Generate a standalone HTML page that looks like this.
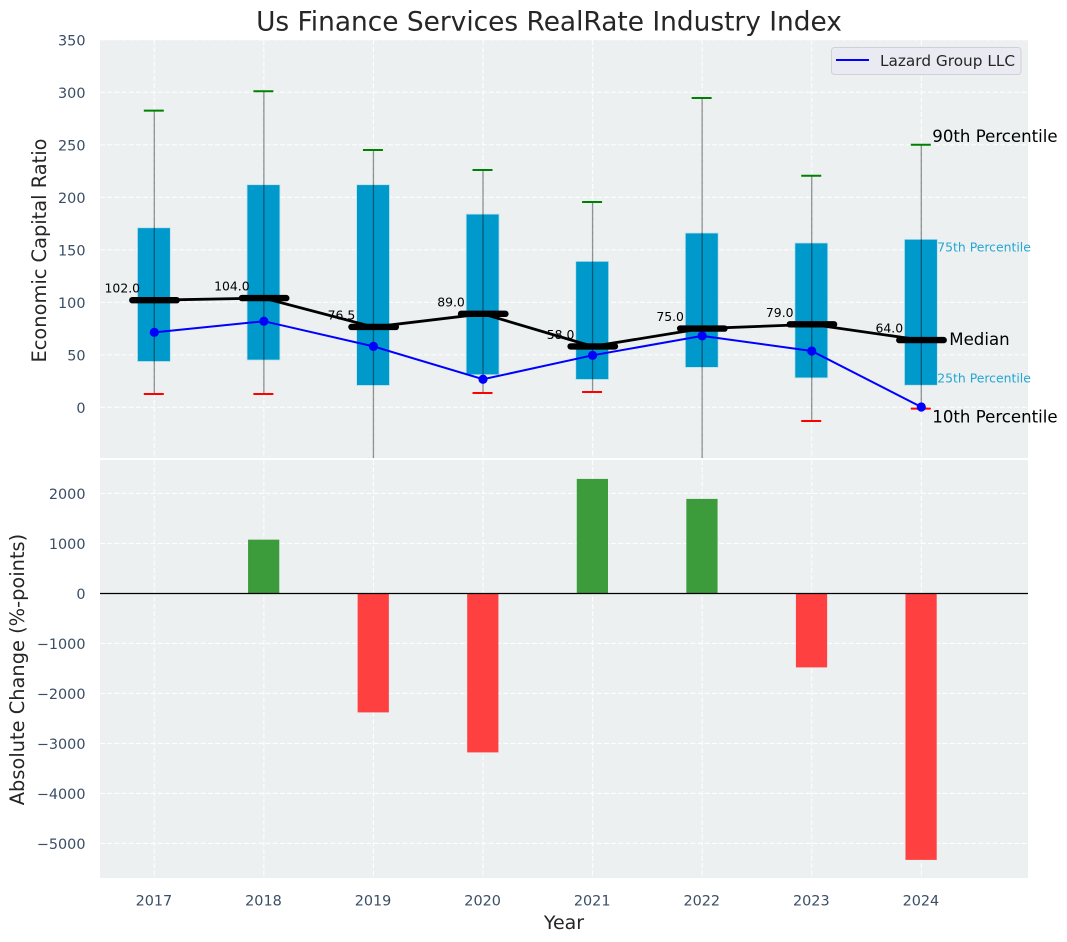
<!DOCTYPE html>
<html lang="en">
<head>
<meta charset="utf-8">
<title>Us Finance Services RealRate Industry Index</title>
<style>
html,body{margin:0;padding:0;background:#fff;width:1067px;height:942px;overflow:hidden}
svg{display:block;font-family:"DejaVu Sans","Liberation Sans",sans-serif}
</style>
</head>
<body>
<svg id="chart" xmlns="http://www.w3.org/2000/svg" width="1067" height="942" viewBox="0 0 1067 942">
  <defs>
    <clipPath id="clip-top"><rect x="100" y="40" width="928" height="418"/></clipPath>
    <clipPath id="clip-bottom"><rect x="100" y="460" width="928" height="418"/></clipPath>
  </defs>
  <rect x="100" y="40" width="928" height="418" fill="#ecf0f1"/>
  <rect x="100" y="460" width="928" height="418" fill="#ecf0f1"/>
  <g id="top-grid" clip-path="url(#clip-top)"></g>
  <g id="bottom-grid" clip-path="url(#clip-bottom)"></g>
  <g id="bars" clip-path="url(#clip-bottom)"></g>
  <line x1="100" x2="1028" y1="593.5" y2="593.5" stroke="#000" stroke-width="1.2"/>
  <g id="boxes" clip-path="url(#clip-top)"></g>
  <g id="whiskers" clip-path="url(#clip-top)"></g>
  <g id="lazard" clip-path="url(#clip-top)"></g>
  <g id="medians"></g>
  <g id="annotations"></g>
  <g id="tick-labels"></g>

  <text x="549" y="30.5" text-anchor="middle" font-size="26.4" fill="#262626">Us Finance Services RealRate Industry Index</text>
  <text x="564" y="929" text-anchor="middle" font-size="19" fill="#262626">Year</text>
  <text transform="translate(46 250.5) rotate(-90)" text-anchor="middle" font-size="19.4" fill="#262626">Economic Capital Ratio</text>
  <text transform="translate(24 669.5) rotate(-90)" text-anchor="middle" font-size="19.4" fill="#262626">Absolute Change (%-points)</text>

  <g>
    <rect x="831.5" y="47.5" width="189.5" height="27" rx="3" fill="#eaeaf2" stroke="#d0d0d6" stroke-width="1"/>
    <line x1="836" x2="869" y1="60" y2="60" stroke="#0000ff" stroke-width="2"/>
    <text x="880" y="66" font-size="15.3" fill="#262626">Lazard Group LLC</text>
  </g>
</svg>
<script>
const years = [2017, 2018, 2019, 2020, 2021, 2022, 2023, 2024];
const p10 = [12.7, 12.7, -60, 13.6, 14.6, -60, -13, -1.3];
const p25 = [43.6, 45, 20.8, 31, 26.5, 38, 28, 21];
const medianValues = [102, 104, 76.5, 89, 58, 75, 79, 64];
const p75 = [171, 212, 212, 184, 139, 166, 156.5, 160];
const p90 = [282.5, 301, 245, 226, 195.5, 294.6, 220.5, 250];
const lazardValues = [71.4, 82, 58, 26.7, 49.5, 68, 53.6, 0.3];
const changeValues = [0, 1075, -2380, -3180, 2290, 1890, -1480, -5330];
const topTicks = [0, 50, 100, 150, 200, 250, 300, 350];
const bottomTicks = [-5000, -4000, -3000, -2000, -1000, 0, 1000, 2000];

const NS = 'http://www.w3.org/2000/svg';
const xScale = function (year) { return 154.3 + (year - 2017) * 109.57; };
const yTop = function (v) { return 407.3 - v * 1.05; };
const yBottom = function (v) { return 593.4 - v * 0.05; };
const xUnit = 109.57;

function mk(tag, attrs, parent, text) {
  const el = document.createElementNS(NS, tag);
  Object.keys(attrs).forEach(function (k) { el.setAttribute(k, attrs[k]); });
  if (text !== undefined) el.textContent = text;
  parent.appendChild(el);
  return el;
}
function fmt(v) { return String(v).replace('-', '\u2212'); }

const topGrid = document.getElementById('top-grid');
const bottomGrid = document.getElementById('bottom-grid');
const barsG = document.getElementById('bars');
const boxesG = document.getElementById('boxes');
const whiskersG = document.getElementById('whiskers');
const lazardG = document.getElementById('lazard');
const mediansG = document.getElementById('medians');
const annotG = document.getElementById('annotations');
const tickG = document.getElementById('tick-labels');
const gridStyle = { stroke: '#ffffff', 'stroke-width': 1.1, 'stroke-dasharray': '5 2.2', 'stroke-opacity': 0.9 };
const tickColor = '#3a4e65';

topTicks.forEach(function (t) {
  const y = yTop(t);
  const g = mk('line', Object.assign({ x1: 100, x2: 1028, y1: y, y2: y }, gridStyle), topGrid);
  
  
  const lab = mk('text', { x: 85.5, y: y + 5.5, 'text-anchor': 'end', 'font-size': 14.4, fill: tickColor }, tickG, fmt(t));
  
  
});
bottomTicks.forEach(function (t) {
  const y = yBottom(t);
  const g = mk('line', Object.assign({ x1: 100, x2: 1028, y1: y, y2: y }, gridStyle), bottomGrid);
  
  
  const lab = mk('text', { x: 85.5, y: y + 5.5, 'text-anchor': 'end', 'font-size': 14.4, fill: tickColor }, tickG, fmt(t));
  
  
});

years.forEach(function (yr, i) {
  const x = xScale(yr);

  const g1 = mk('line', Object.assign({ x1: x, x2: x, y1: 40, y2: 458 }, gridStyle), topGrid);
  
  
  const g2 = mk('line', Object.assign({ x1: x, x2: x, y1: 460, y2: 878 }, gridStyle), bottomGrid);
  
  

  const lab = mk('text', { x: x - 0.4, y: 905.5, 'text-anchor': 'middle', 'font-size': 14.4, fill: tickColor }, tickG, String(yr));
  
  

  const c = changeValues[i];
  const bw = xUnit * 0.285;
  const bar = mk('rect', {
    x: x - bw / 2 - 0.2, width: bw,
    y: Math.min(yBottom(c), yBottom(0)),
    height: Math.abs(yBottom(c) - yBottom(0)),
    fill: c >= 0 ? '#3c9c3c' : '#ff4040'
  }, barsG);
  
  

  const boxW = xUnit * 0.3;
  const box = mk('rect', {
    x: x - boxW / 2 - 0.4, width: boxW,
    y: yTop(p75[i]), height: yTop(p25[i]) - yTop(p75[i]),
    fill: '#0099cc', stroke: '#bfe2ee', 'stroke-width': 0.8
  }, boxesG);
  
  

  const w = mk('line', { x1: x, x2: x, y1: yTop(p90[i]), y2: yTop(p10[i]), stroke: '#000', 'stroke-opacity': 0.42, 'stroke-width': 1.3 }, whiskersG);
  
  
  const capHi = mk('line', { x1: x - 10.5, x2: x + 9.5, y1: yTop(p90[i]), y2: yTop(p90[i]), stroke: '#008000', 'stroke-width': 2 }, whiskersG);
  
  
  const capLo = mk('line', { x1: x - 10.5, x2: x + 9.5, y1: yTop(p10[i]), y2: yTop(p10[i]), stroke: '#ff0000', 'stroke-width': 2 }, whiskersG);
  
  
});

const lazardLine = mk('polyline', {
  points: years.map(function (yr, i) { return xScale(yr) + ',' + yTop(lazardValues[i]); }).join(' '),
  fill: 'none', stroke: '#0000ff', 'stroke-width': 2
}, lazardG);


years.forEach(function (yr, i) {
  const pt = mk('circle', { cx: xScale(yr), cy: yTop(lazardValues[i]), r: 4.6, fill: '#0000ff' }, lazardG);
  
  
});

const medianLine = mk('polyline', {
  points: years.map(function (yr, i) { return xScale(yr) + ',' + yTop(medianValues[i]); }).join(' '),
  fill: 'none', stroke: '#000', 'stroke-width': 2.8
}, mediansG);


years.forEach(function (yr, i) {
  const x = xScale(yr), y = yTop(medianValues[i]);
  const tick = mk('line', { x1: x - 22, x2: x + 22.4, y1: y, y2: y, stroke: '#000', 'stroke-width': 6.4, 'stroke-linecap': 'round' }, mediansG);
  
  
  const txt = mk('text', { x: x - 32, y: y - 7.5, 'text-anchor': 'middle', 'font-size': 12.4, fill: '#000' }, mediansG, medianValues[i].toFixed(1));
  
  
});

const last = years.length - 1;
const lastX = xScale(years[last]);
const a90 = mk('text', { x: lastX + 11, y: yTop(p90[last]) - 3, 'font-size': 16.6, fill: '#000' }, annotG, '90th Percentile');


const a75 = mk('text', { x: lastX + 16, y: yTop(p75[last]) + 12, 'font-size': 12.4, fill: '#0099cc', 'fill-opacity': 0.85 }, annotG, '75th Percentile');


const aMed = mk('text', { x: lastX + 28, y: yTop(medianValues[last]) + 5, 'font-size': 16.6, fill: '#000' }, annotG, 'Median');


const a25 = mk('text', { x: lastX + 16, y: yTop(p25[last]) - 3, 'font-size': 12.4, fill: '#0099cc', 'fill-opacity': 0.85 }, annotG, '25th Percentile');


const a10 = mk('text', { x: lastX + 11, y: yTop(p10[last]) + 14, 'font-size': 16.6, fill: '#000' }, annotG, '10th Percentile');


</script>
</body>
</html>
